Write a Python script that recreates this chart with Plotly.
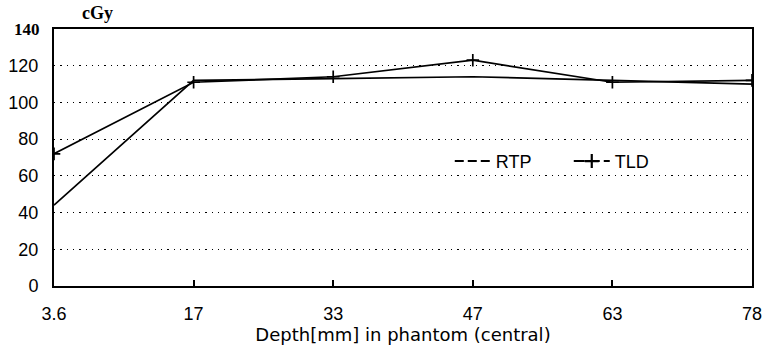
import plotly.graph_objects as go

depth_labels = ["3.6", "17", "33", "47", "63", "78"]
rtp_values = [44, 112, 113, 114, 112, 110]
tld_values = [72, 111, 114, 123, 111, 112]
y_ticks = [0, 20, 40, 60, 80, 100, 120]

fig = go.Figure()

fig.add_trace(go.Scatter(
    x=depth_labels, y=rtp_values, mode="lines", name="RTP",
    line=dict(color="black", width=1.7), showlegend=False))
fig.add_trace(go.Scatter(
    x=depth_labels, y=tld_values, mode="lines+markers", name="TLD",
    line=dict(color="black", width=1.7),
    marker=dict(symbol="cross-thin", size=9, line=dict(color="black", width=1.7)),
    showlegend=False))
# legend entries
fig.add_trace(go.Scatter(
    x=[None], y=[None], mode="lines", name="RTP",
    line=dict(color="black", width=2, dash="9px,4px")))
fig.add_trace(go.Scatter(
    x=[None], y=[None], mode="lines+markers", name="TLD",
    line=dict(color="black", width=2, dash="11px,4px"),
    marker=dict(symbol="cross-thin", size=10, line=dict(color="black", width=2.2))))

fig.update_layout(
    width=767, height=353,
    margin=dict(l=54, r=15, t=29, b=67, autoexpand=False),
    paper_bgcolor="white", plot_bgcolor="white",
    font=dict(family="Liberation Sans, Arial, sans-serif", color="black", size=18),
    title=dict(text="<b>cGy</b>", xref="paper", x=0.04, xanchor="left",
               yref="container", y=0.963, yanchor="middle",
               font=dict(family="Liberation Serif, Times New Roman, serif", size=18)),
    legend=dict(orientation="h", x=0.567, y=0.485, xanchor="left", yanchor="middle",
                font=dict(size=18), bgcolor="rgba(0,0,0,0)", itemwidth=36,
                entrywidth=68, entrywidthmode="pixels", tracegroupgap=0),
    xaxis=dict(
        type="category", range=[0, 5], showgrid=False, automargin=False,
        showline=True, linecolor="black", linewidth=2, mirror=True,
        ticks="inside", ticklen=6, tickcolor="black", tickwidth=1.5,
        tickfont=dict(size=18), ticklabelstandoff=10,
        title=dict(text="Depth[mm] in phantom (central)", standoff=4,
                   font=dict(size=18, family="DejaVu Sans, sans-serif")),
    ),
    yaxis=dict(
        range=[0, 140], tickvals=y_ticks, ticks="", ticklen=0, automargin=False,
        showline=True, linecolor="black", linewidth=2, mirror=True,
        showgrid=True, gridcolor="black", gridwidth=1.3, griddash="1.3px,5px",
        zeroline=False, tickfont=dict(size=18), ticklabelstandoff=10,
    ),
    annotations=[
        dict(text="<b>140</b>", xref="paper", yref="y", x=0, y=140, xanchor="right",
             yanchor="middle", xshift=-12, showarrow=False,
             font=dict(family="Liberation Serif, Times New Roman, serif", size=17)),
    ],
)

fig.write_html("out.html", config={"displayModeBar": False},
               post_script="document.body.style.margin='0';")
